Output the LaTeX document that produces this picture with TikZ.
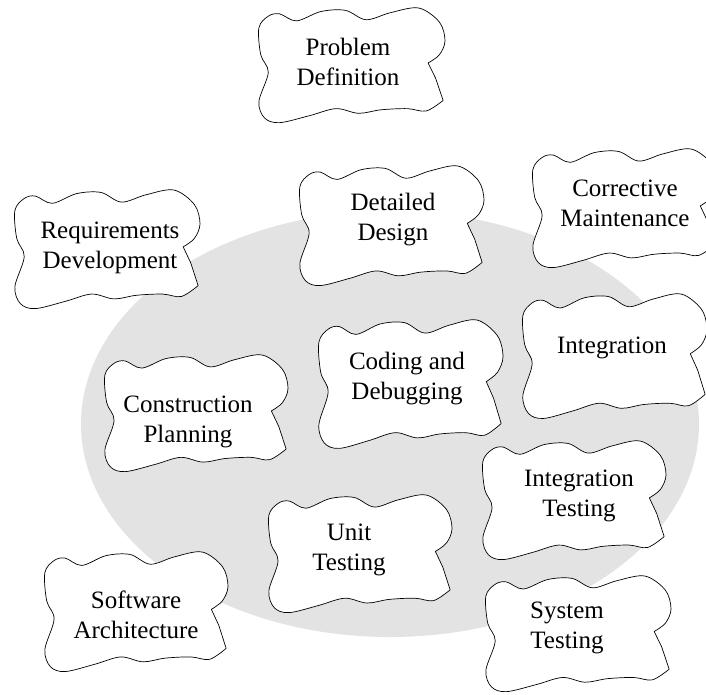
\documentclass[tikz,border=0pt]{standalone}
\usepackage{fontspec}
\setmainfont{Liberation Serif}

\definecolor{ovalgray}{gray}{0.89}

% wavy cloud: name, left, top, width, height, text x, text y, text
\newcommand{\cloud}[8]{%
  \draw[cloudline] plot[smooth, tension=0.55] coordinates {
    ({#2+0.99*#4},{#3+0.79*#5}) ({#2+0.90*#4},{#3+0.88*#5})
    ({#2+0.80*#4},{#3+0.86*#5}) ({#2+0.66*#4},{#3+0.87*#5})
    ({#2+0.54*#4},{#3+0.90*#5}) ({#2+0.42*#4},{#3+0.86*#5})
    ({#2+0.28*#4},{#3+0.92*#5}) ({#2+0.12*#4},{#3+0.98*#5})
    ({#2+0.04*#4},{#3+0.94*#5}) ({#2+0.01*#4},{#3+0.80*#5})
    ({#2+0.06*#4},{#3+0.55*#5}) ({#2+0.02*#4},{#3+0.40*#5})
    ({#2+0.01*#4},{#3+0.17*#5}) ({#2+0.06*#4},{#3+0.07*#5})
    ({#2+0.12*#4},{#3+0.05*#5}) ({#2+0.21*#4},{#3+0.11*#5})
    ({#2+0.34*#4},{#3+0.03*#5}) ({#2+0.47*#4},{#3+0.02*#5})
    ({#2+0.58*#4},{#3+0.10*#5}) ({#2+0.71*#4},{#3+0.04*#5})
    ({#2+0.86*#4},{#3+0.00*#5}) ({#2+0.97*#4},{#3+0.12*#5})
    ({#2+1.00*#4},{#3+0.28*#5}) ({#2+0.97*#4},{#3+0.40*#5})
    ({#2+0.91*#4},{#3+0.47*#5})
  } -- ({#2+0.95*#4},{#3+0.60*#5}) -- cycle;
  \node[cloudtext] (#1) at (#6,#7) {#8};%
}

\tikzset{
  cloudline/.style={draw=black, fill=white, line width=0.7pt, line join=round},
  cloudtext/.style={align=center, inner sep=0pt,
    font=\fontsize{25}{30}\selectfont}
}

\begin{document}
\begin{tikzpicture}[x=1pt,y=-1pt]
    \useasboundingbox (0,0) rectangle (706,694);

    % Background oval
    \fill[ovalgray] (390,424) ellipse [x radius=309, y radius=213];

    % Clouds
    \cloud{problem}{257}{8}{188}{117}{348}{62}{Problem\\Definition}
    \cloud{reqdev}{13}{190}{187}{121}{110}{248}{Requirements\\Development}
    \cloud{design}{298}{166}{186}{122}{393}{220}{Detailed\\Design}
    \cloud{maint}{531}{149}{186}{121}{625}{203}{Corrective\\Maintenance}
    \cloud{integ}{521}{294}{186}{127}{612}{348}{Integration}
    \cloud{coding}{317}{320}{186}{131}{407}{379}{Coding and\\Debugging}
    \cloud{planning}{103}{355}{185}{119}{188}{422}{Construction\\Planning}
    \cloud{inttest}{481}{441}{185}{121}{579}{496}{Integration\\Testing}
    \cloud{unittest}{267}{495}{185}{120}{349}{550}{Unit\\Testing}
    \cloud{arch}{43}{552}{185}{122}{136}{615}{Software\\Architecture}
    \cloud{systest}{484}{576}{187}{118}{567}{628}{System\\Testing}
\end{tikzpicture}
\end{document}
